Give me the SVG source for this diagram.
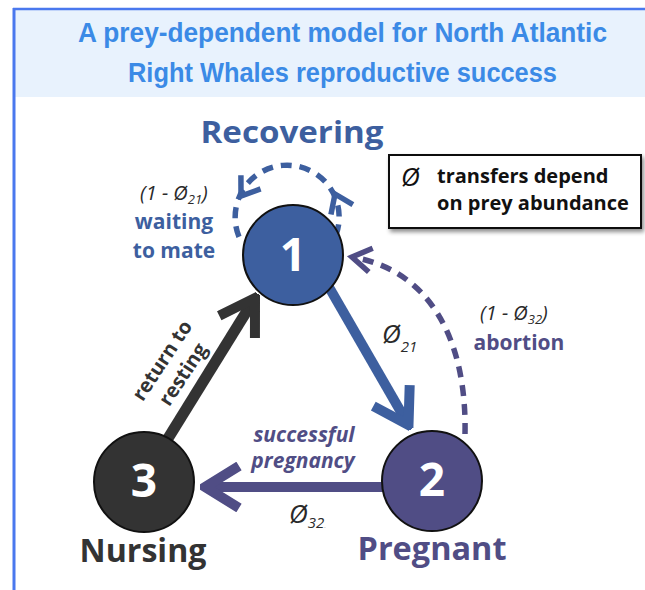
<svg xmlns="http://www.w3.org/2000/svg" width="645" height="590" viewBox="0 0 645 590">
<style>
.lbl{font-family:"Open Sans","DejaVu Sans",sans-serif;font-weight:bold}
.it{font-family:"Open Sans","DejaVu Sans",sans-serif;font-style:italic}
.num{font-family:"Open Sans","DejaVu Sans",sans-serif;font-weight:bold;font-size:46px;fill:#fff;text-anchor:middle}
.node{stroke:#111;stroke-width:2}
.title{font-family:"Liberation Sans",Arial,sans-serif;font-weight:bold;font-size:28px;fill:#3b8ae6;text-anchor:middle}
.dash{fill:none;stroke-width:5.5;stroke-dasharray:11 8}
.chev{fill:none;stroke-width:5.5;stroke-linejoin:miter}
</style>
<defs>
<marker id="hBlack" viewBox="-40 -25 45 50" markerWidth="45" markerHeight="50" refX="0" refY="0" orient="auto" markerUnits="userSpaceOnUse">
<path d="M-34,-21 L0,0 L-34,21" fill="none" stroke="#333" stroke-width="10" stroke-miterlimit="10"/>
</marker>
<marker id="hBlue" viewBox="-40 -25 45 50" markerWidth="45" markerHeight="50" refX="0" refY="0" orient="auto" markerUnits="userSpaceOnUse">
<path d="M-34,-21 L0,0 L-34,21" fill="none" stroke="#3d5f9f" stroke-width="10" stroke-miterlimit="10"/>
</marker>
<marker id="hPurple" viewBox="-40 -25 45 50" markerWidth="45" markerHeight="50" refX="0" refY="0" orient="auto" markerUnits="userSpaceOnUse">
<path d="M-34,-21 L0,0 L-34,21" fill="none" stroke="#504d85" stroke-width="10" stroke-miterlimit="10"/>
</marker>
<marker id="hPurpleSm" viewBox="-25 -16 30 32" markerWidth="30" markerHeight="32" refX="0" refY="0" orient="auto" markerUnits="userSpaceOnUse">
<path d="M-19,-12 L0,0 L-19,12" fill="none" stroke="#504d85" stroke-width="5.5" stroke-miterlimit="10"/>
</marker>
<filter id="sh" x="-10%" y="-20%" width="130%" height="150%">
<feDropShadow dx="2" dy="3" stdDeviation="2" flood-color="#000" flood-opacity="0.45"/>
</filter>
</defs>

<g id="frame">
<rect x="15" y="10" width="630" height="87" fill="#e8f2fd"/>
<line x1="13" y1="9" x2="645" y2="9" stroke="#4a78ee" stroke-width="2.5"/>
<line x1="14" y1="8" x2="14" y2="590" stroke="#4a78ee" stroke-width="3"/>
<text class="title" x="342.5" y="42" textLength="529" lengthAdjust="spacingAndGlyphs">A prey-dependent model for North Atlantic</text>
<text class="title" x="342.5" y="82" textLength="429" lengthAdjust="spacingAndGlyphs">Right Whales reproductive success</text>
</g>

<g id="connectors">
<!-- self loop on 1 -->
<path class="dash" stroke="#3d5f9f" d="M336,235 A52,52 0 1 0 242,243"/>
<path class="chev" stroke="#3d5f9f" transform="translate(335,194) rotate(-114)" d="M-17,-12 L0,0 L-17,12"/>
<path class="chev" stroke="#3d5f9f" transform="translate(241,196) rotate(125)" d="M-17,-12 L0,0 L-17,12"/>
<!-- abortion 2 -> 1 -->
<path class="dash" stroke="#504d85" stroke-dasharray="11 9" d="M465,434 C467,340 430,270 352,257" marker-end="url(#hPurpleSm)"/>
<!-- 1 -> 2 -->
<line x1="326" y1="282" x2="408.5" y2="425" stroke="#3d5f9f" stroke-width="10" marker-end="url(#hBlue)"/>
<!-- 2 -> 3 -->
<line x1="384" y1="487" x2="205" y2="487" stroke="#504d85" stroke-width="10" marker-end="url(#hPurple)"/>
<!-- 3 -> 1 -->
<line x1="167" y1="440" x2="255" y2="298" stroke="#333" stroke-width="11" marker-end="url(#hBlack)"/>

<text class="it" x="140" y="200" font-size="20" fill="#2a2a2a">(1 - Ø<tspan font-size="13" dy="4">21</tspan><tspan dy="-4">)</tspan></text>
<text class="lbl" x="174" y="229" font-size="21" fill="#3d5f9f" text-anchor="middle">waiting</text>
<text class="lbl" x="174" y="258" font-size="21" fill="#3d5f9f" text-anchor="middle">to mate</text>

<text class="it" x="382" y="343" font-size="26" fill="#2a2a2a">Ø<tspan font-size="15" dy="9">21</tspan></text>

<text class="it" x="480" y="320" font-size="20" fill="#2a2a2a">(1 - Ø<tspan font-size="13" dy="4">32</tspan><tspan dy="-4">)</tspan></text>
<text class="lbl" x="519" y="350" font-size="21" fill="#504d85" text-anchor="middle">abortion</text>

<text class="lbl" x="304" y="442" font-size="21" fill="#504d85" font-style="italic" text-anchor="middle">successful</text>
<text class="lbl" x="303" y="468" font-size="21" fill="#504d85" font-style="italic" text-anchor="middle">pregnancy</text>

<text class="it" x="289" y="523" font-size="26" fill="#2a2a2a">Ø<tspan font-size="15" dy="5">32</tspan><tspan font-size="8" fill="#bbb">.</tspan></text>

<g transform="translate(172,367) rotate(-56.5)">
<text class="lbl" x="0" y="-5" font-size="20" fill="#333" text-anchor="middle">return to</text>
<text class="lbl" x="0" y="20" font-size="20" fill="#333" text-anchor="middle">resting</text>
</g>
</g>

<g id="legend">
<rect x="389" y="155" width="252" height="73" fill="#fff" stroke="#111" stroke-width="2" filter="url(#sh)"/>
<text class="it" x="401" y="186" font-size="26" fill="#111">Ø</text>
<text class="lbl" x="437" y="183" font-size="20" fill="#111">transfers depend</text>
<text class="lbl" x="437" y="210" font-size="20" fill="#111">on prey abundance</text>
</g>

<g id="node1">
<circle class="node" cx="293" cy="255" r="50" fill="#3d5f9f"/>
<text class="num" x="293" y="271">1</text>
<text class="lbl" x="292" y="143" font-size="31" fill="#3d5f9f" text-anchor="middle" textLength="183" lengthAdjust="spacingAndGlyphs">Recovering</text>
</g>

<g id="node2">
<circle class="node" cx="432" cy="481" r="50" fill="#504d85"/>
<text class="num" x="432" y="496">2</text>
<text class="lbl" x="432" y="560" font-size="33" fill="#504d85" text-anchor="middle" textLength="149" lengthAdjust="spacingAndGlyphs">Pregnant</text>
</g>

<g id="node3">
<circle class="node" cx="144" cy="482" r="50" fill="#333333"/>
<text class="num" x="144" y="497">3</text>
<text class="lbl" x="143" y="562" font-size="33" fill="#333" text-anchor="middle" textLength="127" lengthAdjust="spacingAndGlyphs">Nursing</text>
</g>
</svg>
